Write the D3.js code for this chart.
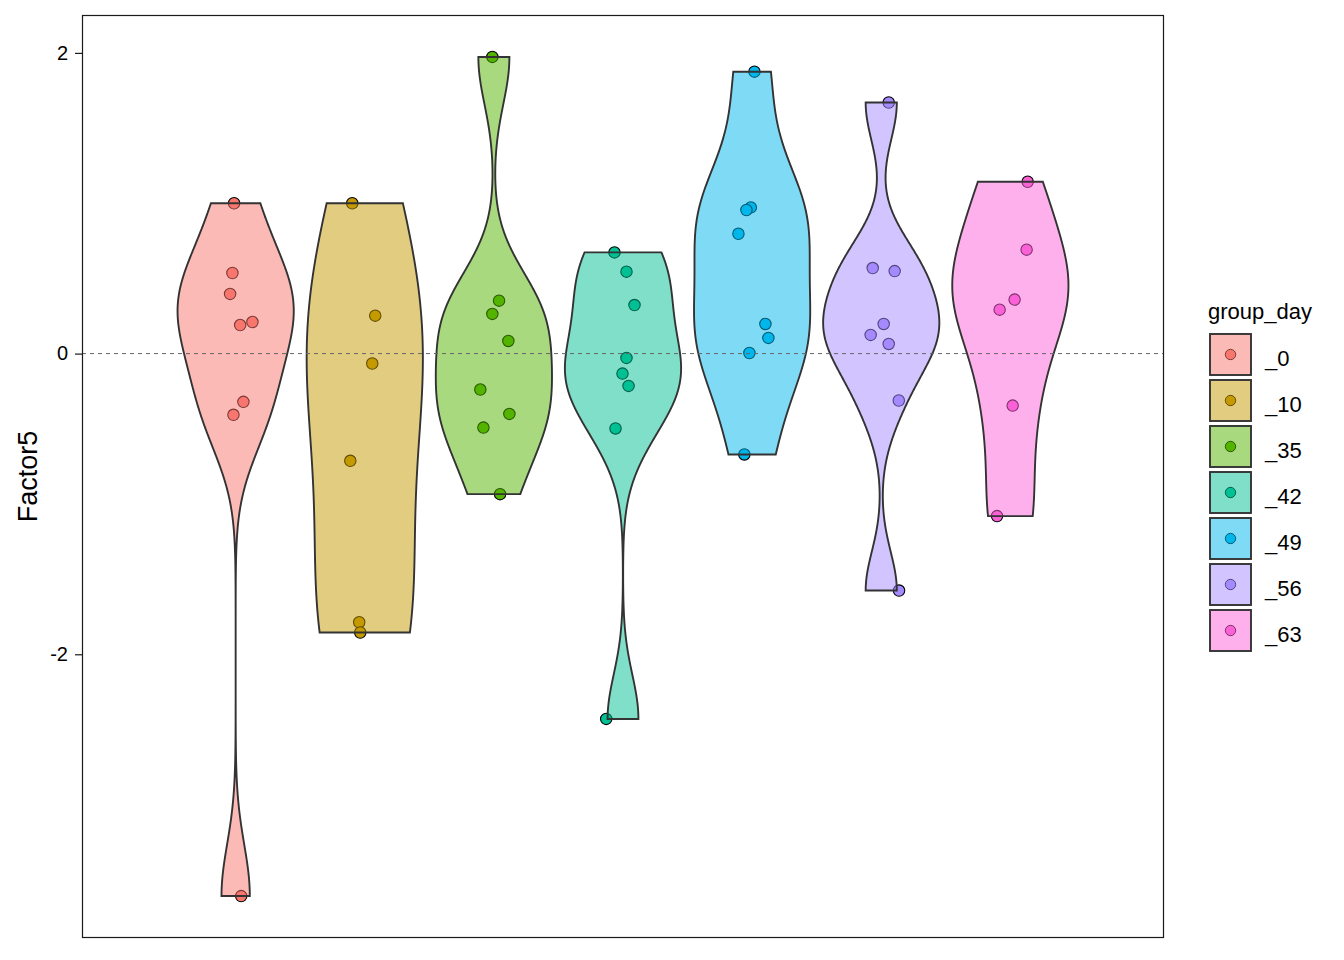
<!DOCTYPE html>
<html>
<head>
<meta charset="utf-8">
<script src="https://cdn.jsdelivr.net/npm/d3@7"></script>
<style>
  html, body { margin: 0; padding: 0; background: #ffffff; }
  svg { display: block; }
  text { font-family: "Liberation Sans", Arial, sans-serif; }
</style>
</head>
<body>
<svg id="chart" width="1344" height="960"></svg>
<script>
// ---------------- data ----------------
const categories = ["_0", "_10", "_35", "_42", "_49", "_56", "_63"];
const colors = ["#F8766D", "#C49A00", "#53B400", "#00C094", "#00B6EB", "#A58AFF", "#FB61D7"];

const values_0  = [1.0, 0.536, 0.397, 0.19, 0.21, -0.321, -0.407, -3.608];
const values_10 = [1.0, 0.2525, -0.066, -0.713, -1.787, -1.855];
const values_35 = [1.973, 0.352, 0.264, 0.084, -0.239, -0.401, -0.492, -0.935];
const values_42 = [0.673, 0.545, 0.323, -0.029, -0.133, -0.215, -0.498, -2.430];
const values_49 = [1.875, 0.972, 0.955, 0.797, 0.197, 0.104, 0.004, -0.671];
const values_56 = [1.670, 0.569, 0.549, 0.197, 0.124, 0.064, -0.312, -1.576];
const values_63 = [1.143, 0.691, 0.359, 0.292, -0.346, -1.081];

// horizontal jitter of the points, as a fraction of one group slot
const jitter_0  = [-0.012, -0.025, -0.043, 0.035, 0.130, 0.060, -0.017, 0.043];
const jitter_10 = [-0.097, 0.081, 0.058, -0.112, -0.043, -0.035];
const jitter_35 = [-0.012, 0.040, -0.012, 0.112, -0.105, 0.120, -0.081, 0.048];
const jitter_42 = [-0.066, 0.027, 0.089, 0.027, -0.004, 0.043, -0.058, -0.130];
const jitter_49 = [0.018, -0.010, -0.044, -0.106, 0.103, 0.126, -0.021, -0.060];
const jitter_56 = [0.058, -0.066, 0.104, 0.019, -0.082, 0.058, 0.136, 0.138];
const jitter_63 = [0.134, 0.126, 0.033, -0.083, 0.018, -0.103];

const yTicks = [-2, 0, 2];
const yTickLabels = ["-2", "0", "2"];
const yTitle = "Factor5";
const legendTitle = "group_day";

const groups = categories.map((c, i) => ({
  cat: c,
  color: colors[i],
  values: [values_0, values_10, values_35, values_42, values_49, values_56, values_63][i],
  jitter: [jitter_0, jitter_10, jitter_35, jitter_42, jitter_49, jitter_56, jitter_63][i]
}));

// ---------------- layout ----------------
const svg = d3.select("#chart");
const panel = { left: 82, top: 15, right: 1164, bottom: 938 };

const allVals = groups.flatMap(g => g.values);
const [vmin, vmax] = d3.extent(allVals);
const pad = (vmax - vmin) * 0.05;
const y = d3.scaleLinear().domain([vmin - pad, vmax + pad]).range([panel.bottom, panel.top]);

const x = d3.scalePoint().domain(categories).range([panel.left, panel.right]).padding(1.19);
const step = x.step();
const halfW = step * 0.45;

// ---------------- KDE (R density, bw.nrd0, gaussian) ----------------
function bwNrd0(v) {
  const s = d3.sort(v);
  const sd = d3.deviation(s);
  const iqr = d3.quantileSorted(s, 0.75) - d3.quantileSorted(s, 0.25);
  let lo = Math.min(sd, iqr / 1.34);
  if (!(lo > 0)) lo = sd || Math.abs(s[0]) || 1;
  return 0.9 * lo * Math.pow(s.length, -0.2);
}
function densityCurve(v) {
  const bw = bwNrd0(v);
  const [lo, hi] = d3.extent(v);
  const n = 512;
  const pts = [];
  for (let i = 0; i < n; i++) {
    const t = lo + (hi - lo) * i / (n - 1);
    let s = 0;
    for (const xi of v) { const z = (t - xi) / bw; s += Math.exp(-0.5 * z * z); }
    pts.push({ t, d: s / (v.length * bw * Math.sqrt(2 * Math.PI)) });
  }
  const m = d3.max(pts, p => p.d);
  pts.forEach(p => p.s = p.d / m);
  return pts;
}

// ---------------- points (drawn first, under the translucent violins) ----------------
const gPts = svg.append("g");
groups.forEach(g => {
  const cx = x(g.cat);
  gPts.selectAll(null)
    .data(g.values.map((v, i) => ({ v, j: g.jitter[i] })))
    .enter().append("circle")
    .attr("cx", d => cx + d.j * step)
    .attr("cy", d => y(d.v))
    .attr("r", 5.7)
    .attr("fill", g.color)
    .attr("stroke", "#000")
    .attr("stroke-width", 1.1);
});

// ---------------- violins ----------------
const gVio = svg.append("g");
groups.forEach(g => {
  const cx = x(g.cat);
  const pts = densityCurve(g.values);
  const left = pts.map(p => [cx - p.s * halfW, y(p.t)]);
  const right = pts.slice().reverse().map(p => [cx + p.s * halfW, y(p.t)]);
  const outline = left.concat(right);
  gVio.append("path")
    .attr("d", d3.line()(outline) + "Z")
    .attr("fill", g.color)
    .attr("fill-opacity", 0.5)
    .attr("stroke", "#333333")
    .attr("stroke-width", 1.9)
    .attr("stroke-linejoin", "miter");
});

// ---------------- zero line ----------------
svg.append("line")
  .attr("x1", panel.left).attr("x2", panel.right)
  .attr("y1", y(0)).attr("y2", y(0))
  .attr("stroke", "#666666").attr("stroke-width", 1)
  .attr("stroke-dasharray", "4,4");

// ---------------- panel border ----------------
svg.append("rect")
  .attr("x", panel.left + 0.5).attr("y", panel.top + 0.5)
  .attr("width", panel.right - panel.left - 1).attr("height", panel.bottom - panel.top - 1)
  .attr("fill", "none").attr("stroke", "#1a1a1a").attr("stroke-width", 1.2);

// ---------------- y axis ----------------
const yAxis = d3.axisLeft(y).tickValues(yTicks).tickSize(7).tickPadding(7)
  .tickFormat((d, i) => yTickLabels[i]);
const ga = svg.append("g").attr("transform", `translate(${panel.left},0)`).call(yAxis);
ga.select(".domain").remove();
ga.selectAll(".tick line").attr("stroke", "#1a1a1a").attr("stroke-width", 1.2);
ga.selectAll(".tick text")
  .attr("fill", "#000")
  .style("font-family", '"Liberation Sans", Arial, sans-serif')
  .style("font-size", "20px");

svg.append("text")
  .attr("transform", `translate(37,${(panel.top + panel.bottom) / 2}) rotate(-90)`)
  .attr("text-anchor", "middle")
  .attr("fill", "#000")
  .style("font-size", "27px")
  .text(yTitle);

// ---------------- legend ----------------
const lg = svg.append("g");
lg.append("text")
  .attr("x", 1208).attr("y", 319)
  .attr("fill", "#000")
  .style("font-size", "22px")
  .text(legendTitle);

const keySize = 41, keyStep = 46, keyX = 1210, keyY0 = 334;
groups.forEach((g, i) => {
  const ky = keyY0 + i * keyStep;
  lg.append("circle")
    .attr("cx", keyX + keySize / 2).attr("cy", ky + keySize / 2)
    .attr("r", 5.2)
    .attr("fill", g.color).attr("stroke", "#000").attr("stroke-width", 1);
  lg.append("rect")
    .attr("x", keyX).attr("y", ky)
    .attr("width", keySize).attr("height", keySize)
    .attr("fill", g.color).attr("fill-opacity", 0.5)
    .attr("stroke", "#333333").attr("stroke-width", 1.9);
  lg.append("text")
    .attr("x", 1265).attr("y", ky + keySize / 2 + 11)
    .attr("fill", "#000")
    .style("font-size", "22px")
    .text(g.cat);
});
</script>
</body>
</html>
